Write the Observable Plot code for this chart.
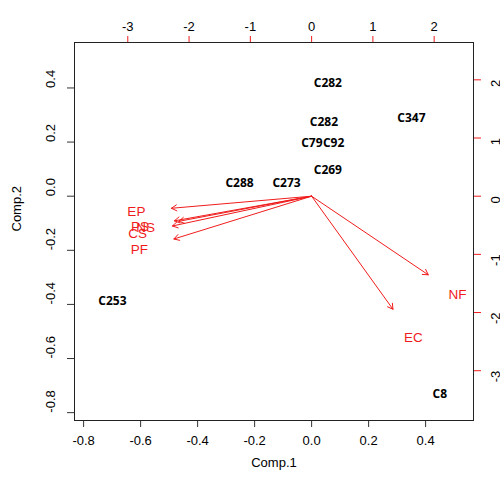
<!DOCTYPE html>
<html><head><meta charset="utf-8">
<script src="https://cdn.jsdelivr.net/npm/d3@7"></script>
<script src="https://cdn.jsdelivr.net/npm/@observablehq/plot@0.6"></script>
<style>body{margin:0;background:#fff} svg{display:block;background:#fff}</style>
</head><body><div id="chart"></div>
<script>
// Observation scores (Comp.1, Comp.2)
const obsNames = ["C282","C347","C282","C79","C92","C269","C288","C273","C253","C8"];
const obsX = [0.057, 0.350, 0.043, 0.001, 0.077, 0.057, -0.253, -0.088, -0.699, 0.450];
const obsY = [0.419, 0.290, 0.272, 0.195, 0.195, 0.095, 0.050, 0.050, -0.387, -0.730];
// Variable loadings (label positions, in top/right axis units)
const varNames = ["EP","PS","NS","CS","PF","NF","EC"];
const varX = [-2.86, -2.80, -2.71, -2.84, -2.81, 2.38, 1.66];
const varY = [-0.26, -0.53, -0.54, -0.64, -0.92, -1.69, -2.43];
// Axis ticks
const bottomTicks = [-0.8, -0.6, -0.4, -0.2, 0.0, 0.2, 0.4];
const leftTicks = [-0.8, -0.6, -0.4, -0.2, 0.0, 0.2, 0.4];
const topTicks = [-3, -2, -1, 0, 1, 2];
const rightTicks = [-3, -2, -1, 0, 1, 2];
const ratio = 0.215;      // loadings-axis unit in score units
const arrowScale = 0.8;   // arrows drawn to 0.8 of label position
const xDomain = [-0.832, 0.568];
const yDomain = [-0.829, 0.568];

const obs = obsNames.map((n, i) => ({name: n, x: obsX[i], y: obsY[i]}));
const vars = varNames.map((n, i) => ({name: n, x: varX[i], y: varY[i]}));

const RED = "#f01c1c";
const FONT = "'Liberation Sans', Arial, sans-serif";

const chart = Plot.plot({
  width: 500,
  height: 482,
  marginLeft: 74,
  marginRight: 27,
  marginTop: 42,
  marginBottom: 62,
  style: {fontFamily: FONT, fontSize: "13px", background: "#fff", color: "#000"},
  x: {domain: xDomain, axis: null},
  y: {domain: yDomain, axis: null},
  marks: [
    // bottom axis ticks + labels
    Plot.axisX(bottomTicks, {anchor: "bottom", tickSize: 7, stroke: "#333", tickFormat: () => "", label: null}),
    Plot.text(bottomTicks, {x: d => d, frameAnchor: "bottom", dy: 24, text: d => d.toFixed(1), fontSize: 13, fill: "#000"}),
    // left axis ticks + labels
    Plot.axisY(leftTicks, {anchor: "left", tickSize: 7, stroke: "#333", tickFormat: () => "", label: null}),
    Plot.text(leftTicks, {y: d => d, frameAnchor: "left", dx: -24, rotate: -90, text: d => d.toFixed(1), fontSize: 13, fill: "#000"}),
    // top axis (loadings)
    Plot.axisX(topTicks.map(t => t * ratio), {anchor: "top", tickSize: 7, stroke: RED, tickFormat: () => "", label: null}),
    Plot.text(topTicks, {x: d => d * ratio, frameAnchor: "top", dy: -21, text: d => String(d), fontSize: 13, fill: "#000"}),
    // right axis (loadings)
    Plot.axisY(rightTicks.map(t => t * ratio), {anchor: "right", tickSize: 7, stroke: RED, tickFormat: () => "", label: null}),
    Plot.text(rightTicks, {y: d => d * ratio, frameAnchor: "right", dx: 22, rotate: -90, text: d => String(d), fontSize: 13, fill: "#000"}),
    // axis titles
    Plot.text(["Comp.1"], {frameAnchor: "bottom", dy: 46, text: d => d, fontSize: 13, fill: "#000"}),
    Plot.text(["Comp.2"], {frameAnchor: "left", dx: -58, rotate: -90, text: d => d, fontSize: 13, fill: "#000"}),
    Plot.frame({stroke: "#222"}),
    // observation labels
    Plot.text(obs, {x: "x", y: "y", text: "name", fontFamily: "'Open Sans', sans-serif", fontWeight: 700, fontSize: 12, fill: "#000"}),
    // loading arrows
    Plot.arrow(vars, {x1: d => 0, y1: d => 0, x2: d => d.x * ratio * arrowScale, y2: d => d.y * ratio * arrowScale,
      stroke: RED, strokeWidth: 1, headLength: 9, headAngle: 60}),
    Plot.text(vars, {x: d => d.x * ratio, y: d => d.y * ratio, text: "name", fill: RED, fontSize: 13.5})
  ]
});
document.getElementById("chart").appendChild(chart);
</script>
</body></html>
